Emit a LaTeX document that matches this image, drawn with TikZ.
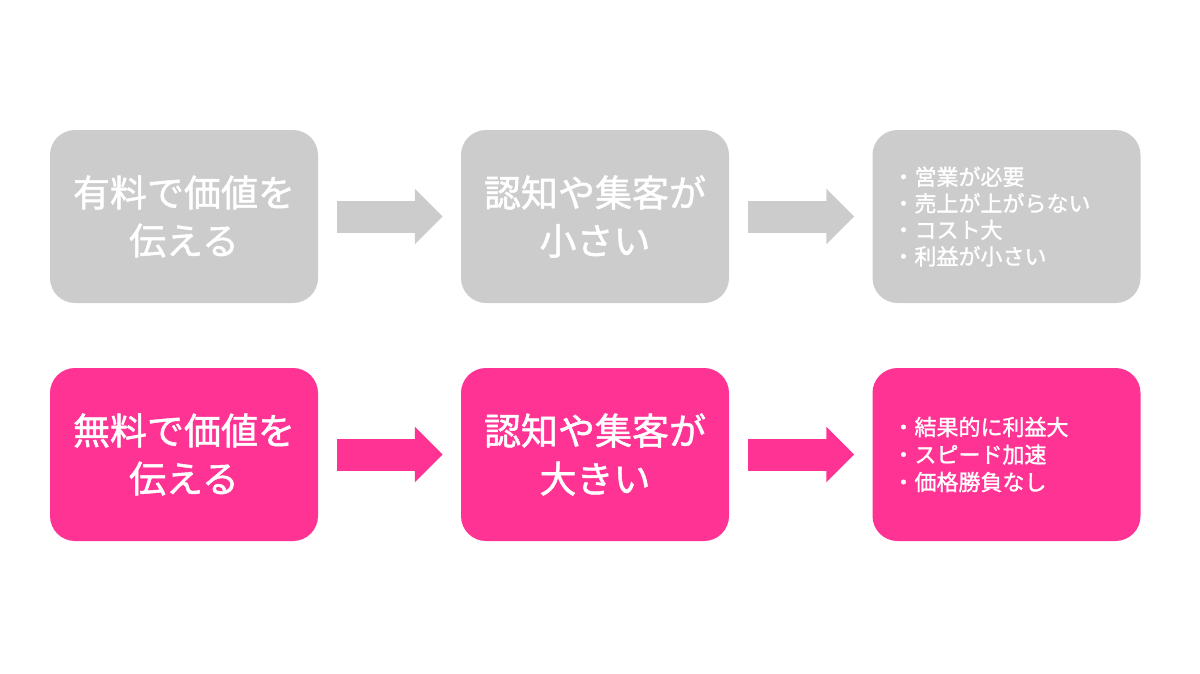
\documentclass[tikz,border=0pt]{standalone}
\usepackage{fontspec}
\setmainfont{Noto Sans CJK JP}[BoldFont={Noto Sans CJK JP}, BoldFeatures={FakeBold=1.3}]
\usetikzlibrary{arrows.meta}
\definecolor{paidgray}{HTML}{CCCCCC}
\definecolor{freepink}{HTML}{FF3394}
\tikzset{
  stepbox/.style={rounded corners=25pt, minimum width=268pt, minimum height=173pt,
    inner sep=0pt, text=white, align=center, font=\fontsize{37}{48}\selectfont\bfseries},
  listbox/.style={stepbox, align=left, text width=228pt, inner xsep=20pt,
    font=\fontsize{22}{26.5}\selectfont\bfseries},
  flow/.style={line width=32pt, -{Triangle[length=28pt,width=54pt]},
    shorten <=19pt, shorten >=18pt}
}
\begin{document}
\begin{tikzpicture}[x=1pt,y=-1pt]
  \useasboundingbox (0,0) rectangle (1200,673);
  % paid
  \node[stepbox, fill=paidgray] (paid) at (184,216.5) {有料で価値を\\伝える};
  \node[stepbox, fill=paidgray] (paidreach) at (595,216.5) {認知や集客が\\小さい};
  \node[listbox, fill=paidgray] (paidres) at (1006.5,216.5) {・営業が必要\\・売上が上がらない\\・コスト大\\・利益が小さい};
  \draw[flow, paidgray] (paid) -- (paidreach);
  \draw[flow, paidgray] (paidreach) -- (paidres);
  % free
  \node[stepbox, fill=freepink] (free) at (184,454.5) {無料で価値を\\伝える};
  \node[stepbox, fill=freepink] (freereach) at (595,454.5) {認知や集客が\\大きい};
  \node[listbox, fill=freepink, font=\fontsize{22}{27.5}\selectfont\bfseries] (freeres) at (1006.5,454.5) {・結果的に利益大\\・スピード加速\\・価格勝負なし};
  \draw[flow, freepink] (free) -- (freereach);
  \draw[flow, freepink] (freereach) -- (freeres);
\end{tikzpicture}
\end{document}
